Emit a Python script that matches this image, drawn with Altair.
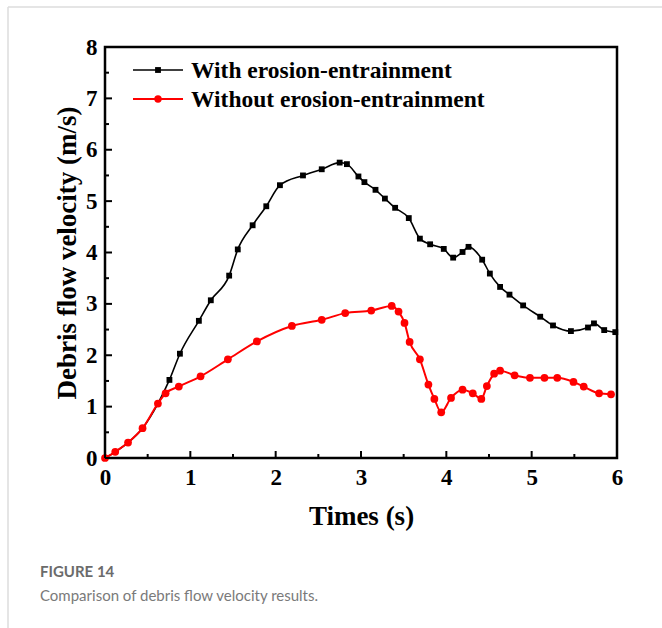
import altair as alt
import pandas as pd

# ---- data ----
black_t = [0, 0.12, 0.27, 0.44, 0.62, 0.755, 0.878, 1.10, 1.24, 1.455, 1.556, 1.73, 1.89, 2.05,
           2.32, 2.54, 2.75, 2.835, 2.97, 3.04, 3.17, 3.28, 3.40, 3.56, 3.69, 3.81, 3.97, 4.08,
           4.19, 4.26, 4.42, 4.51, 4.63, 4.74, 4.90, 5.10, 5.25, 5.46, 5.66, 5.73, 5.85, 5.98]
black_v = [0, 0.12, 0.30, 0.58, 1.06, 1.52, 2.03, 2.67, 3.07, 3.55, 4.06, 4.53, 4.90, 5.31,
           5.50, 5.62, 5.75, 5.72, 5.48, 5.37, 5.22, 5.05, 4.87, 4.67, 4.27, 4.16, 4.07, 3.90,
           4.01, 4.11, 3.86, 3.59, 3.33, 3.18, 2.97, 2.75, 2.58, 2.47, 2.54, 2.62, 2.49, 2.45]

red_t = [0, 0.12, 0.27, 0.44, 0.62, 0.71, 0.865, 1.12, 1.44, 1.78, 2.19, 2.54, 2.815, 3.12,
         3.36, 3.44, 3.51, 3.57, 3.69, 3.79, 3.86, 3.94, 4.055, 4.19, 4.31, 4.41, 4.475, 4.56,
         4.63, 4.80, 4.98, 5.15, 5.30, 5.49, 5.61, 5.79, 5.93]
red_v = [0, 0.12, 0.30, 0.58, 1.06, 1.26, 1.39, 1.59, 1.92, 2.27, 2.57, 2.69, 2.82, 2.87,
         2.96, 2.85, 2.63, 2.26, 1.92, 1.43, 1.15, 0.89, 1.17, 1.33, 1.26, 1.15, 1.40, 1.64,
         1.70, 1.61, 1.56, 1.56, 1.56, 1.48, 1.39, 1.26, 1.24]

series_names = ["With erosion-entrainment", "Without erosion-entrainment"]
series_colors = ["#000000", "#ff0000"]

x_major = [0, 1, 2, 3, 4, 5, 6]
x_minor = [0.5, 1.5, 2.5, 3.5, 4.5, 5.5]
y_major = [0, 1, 2, 3, 4, 5, 6, 7, 8]
y_minor = [0.5, 1.5, 2.5, 3.5, 4.5, 5.5, 6.5, 7.5]

caption_label = "FIGURE 14"
caption_text = "Comparison of debris flow velocity results."

FONT = "Liberation Serif"
W, H = 512, 411

df_b = pd.DataFrame({"t": black_t, "v": black_v})
df_r = pd.DataFrame({"t": red_t, "v": red_v})

xs = alt.Scale(domain=[0, 6], nice=False, zero=False)
ys = alt.Scale(domain=[0, 8], nice=False, zero=False)

x_axis = alt.Axis(title="Times (s)", values=x_major, format="d", tickSize=0,
                  labelPadding=8, labelFontSize=23, labelFont=FONT, labelFontWeight="bold",
                  labelColor="black", titleFontSize=27, titleFont=FONT, titleFontWeight="bold",
                  titleColor="black", titlePadding=14, labelFlush=False)
y_axis = alt.Axis(title="Debris flow velocity (m/s)", values=y_major, format="d", tickSize=0,
                  labelPadding=8, labelFontSize=23, labelFont=FONT, labelFontWeight="bold",
                  labelColor="black", titleFontSize=27, titleFont=FONT, titleFontWeight="bold",
                  titleColor="black", titlePadding=4, labelFlush=False)

X = alt.X("t:Q", scale=xs, axis=x_axis)
Y = alt.Y("v:Q", scale=ys, axis=y_axis)

black_line = alt.Chart(df_b).mark_line(color=series_colors[0], strokeWidth=1.6,
                                       interpolate="monotone").encode(x=X, y=Y)
black_pts = alt.Chart(df_b).transform_filter("datum.t > 0.7").mark_point(
    shape="square", filled=True, color=series_colors[0], size=34, opacity=1).encode(x=X, y=Y)
red_line = alt.Chart(df_r).mark_line(color=series_colors[1], strokeWidth=2,
                                     interpolate="monotone").encode(x=X, y=Y)
red_pts = alt.Chart(df_r).mark_point(shape="circle", filled=True, color=series_colors[1],
                                     size=60, opacity=1).encode(x=X, y=Y)

# inward ticks
def xticks(vals, length):
    return alt.Chart(pd.DataFrame({"t": vals})).mark_rule(color="black", strokeWidth=2).encode(
        x=X, y=alt.value(H), y2=alt.value(H - length))

def yticks(vals, length):
    return alt.Chart(pd.DataFrame({"v": vals})).mark_rule(color="black", strokeWidth=2).encode(
        y=Y, x=alt.value(0), x2=alt.value(length))

# legend (manual)
leg = []
for i, (name, col) in enumerate(zip(series_names, series_colors)):
    yy = 23 + 29 * i
    d = pd.DataFrame({"name": [name]})
    leg.append(alt.Chart(d).mark_rule(color=col, strokeWidth=2 if i else 1.6).encode(
        x=alt.value(28), x2=alt.value(78), y=alt.value(yy)))
    leg.append(alt.Chart(d).mark_point(shape="square" if i == 0 else "circle", filled=True,
                                       color=col, size=34 if i == 0 else 55, opacity=1).encode(
        x=alt.value(53), y=alt.value(yy)))
    leg.append(alt.Chart(d).mark_text(align="left", baseline="middle", font=FONT,
                                      fontWeight="bold", fontSize=23.5, color="black").encode(
        x=alt.value(86), y=alt.value(yy + 1), text="name:N"))

# figure caption and light border
cap_df = pd.DataFrame({"a": [caption_label], "b": [caption_text]})
cap1 = alt.Chart(cap_df).mark_text(align="left", baseline="middle", font="Lato",
                                   fontWeight="bold", fontSize=15, color="#6b6b6b").encode(
    x=alt.value(-65), y=alt.value(525), text="a:N")
cap2 = alt.Chart(cap_df).mark_text(align="left", baseline="middle", font="Lato",
                                   fontSize=15, color="#7a7a7a").encode(
    x=alt.value(-65), y=alt.value(549), text="b:N")
border_top = alt.Chart(cap_df).mark_rule(color="#dddddd", strokeWidth=1.5).encode(
    x=alt.value(-97), x2=alt.value(560), y=alt.value(-40))
border_left = alt.Chart(cap_df).mark_rule(color="#dddddd", strokeWidth=1.5).encode(
    x=alt.value(-97), y=alt.value(-40), y2=alt.value(590))

chart = alt.layer(
    black_line, black_pts, red_line, red_pts,
    xticks(x_major, 7), xticks(x_minor, 4), yticks(y_major, 7), yticks(y_minor, 4),
    *leg, cap1, cap2, border_top, border_left,
).properties(
    width=W, height=H, autosize="none",
    padding={"left": 105, "top": 47, "right": 45, "bottom": 170},
    background="white",
).configure_view(stroke="black", strokeWidth=2.5).configure_axis(grid=False, domain=False)

chart.save("out.html", embed_options={"renderer": "svg", "actions": False})
